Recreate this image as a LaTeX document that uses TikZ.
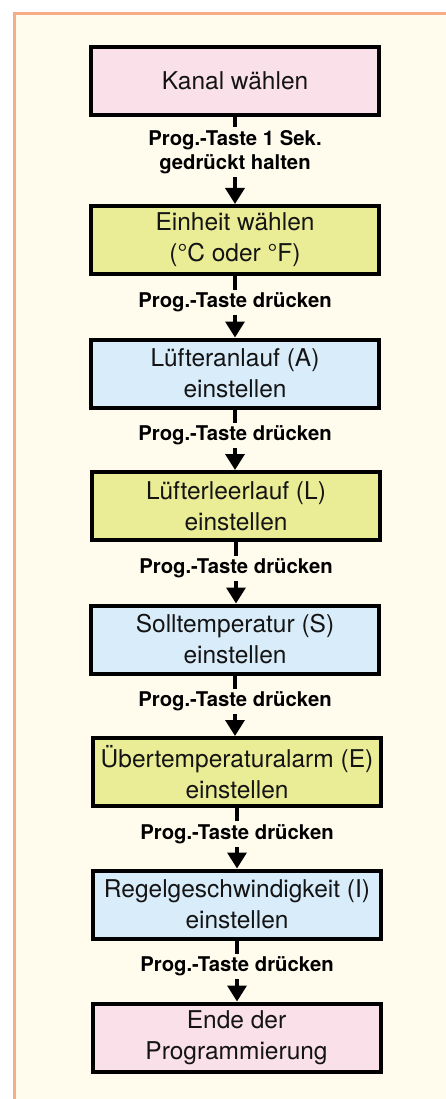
\documentclass[tikz,border=0pt]{standalone}
\usepackage{fontspec}
\setmainfont{TeX Gyre Heros}
\usetikzlibrary{arrows.meta}
\definecolor{cream}{RGB}{255,252,238}
\definecolor{framec}{RGB}{245,172,135}
\definecolor{pinkf}{RGB}{250,224,232}
\definecolor{yellowf}{RGB}{234,237,150}
\definecolor{bluef}{RGB}{217,236,250}
\tikzset{
  box/.style={draw=black, line width=4pt, minimum width=288pt, minimum height=68pt,
    align=center, inner sep=0pt, text=black!92, font=\fontsize{24.5}{31}\selectfont},
  pinkbox/.style={box, fill=pinkf},
  yellowbox/.style={box, fill=yellowf},
  bluebox/.style={box, fill=bluef},
  lbl/.style={fill=cream, inner sep=3pt, align=center, text=black,
    font=\bfseries\fontsize{20.3}{24}\selectfont},
  conn/.style={line width=3.5pt, -{Triangle[width=19pt,length=16pt]}},
  framebox/.style={draw=framec, line width=3pt, fill=cream}
}
\begin{document}
\begin{tikzpicture}[x=1pt,y=1pt]
\useasboundingbox (0,0) rectangle (446,-1099);
\clip (0,0) rectangle (446,-1099);
\fill[white] (0,0) rectangle (446,-1099);
\draw[framebox] (14.5,-13.5) rectangle (470,-1120);

\node[pinkbox]   (b1) at (235,-81)    {Kanal wählen};
\node[yellowbox] (b2) at (235,-240)   {Einheit wählen\\(°C oder °F)};
\node[bluebox]   (b3) at (235,-373.5) {Lüfteranlauf (A)\\einstellen};
\node[yellowbox] (b4) at (236,-506)   {Lüfterleerlauf (L)\\einstellen};
\node[bluebox]   (b5) at (235,-639.5) {Solltemperatur (S)\\einstellen};
\node[yellowbox] (b6) at (237,-772)   {Übertemperaturalarm (E)\\einstellen};
\node[bluebox]   (b7) at (237,-904.5) {Regelgeschwindigkeit (I)\\einstellen};
\node[pinkbox]   (b8) at (236.5,-1037.5) {Ende der\\Programmierung};

\draw[conn] (b1.south) -- node[lbl, pos=0.40] (l1) {Prog.-Taste 1 Sek.\\gedrückt halten} (b1.south |- b2.north);
\draw[conn] (b2.south) -- node[lbl, pos=0.43] (l2) {Prog.-Taste drücken} (b2.south |- b3.north);
\draw[conn] (b3.south) -- node[lbl, pos=0.43] (l3) {Prog.-Taste drücken} (b3.south |- b4.north);
\draw[conn] (b4.south) -- node[lbl, pos=0.43] (l4) {Prog.-Taste drücken} (b4.south |- b5.north);
\draw[conn] (b5.south) -- node[lbl, pos=0.43] (l5) {Prog.-Taste drücken} (b5.south |- b6.north);
\draw[conn] (b6.south) -- node[lbl, pos=0.43] (l6) {Prog.-Taste drücken} (b6.south |- b7.north);
\draw[conn] (b7.south) -- node[lbl, pos=0.43] (l7) {Prog.-Taste drücken} (b7.south |- b8.north);
\end{tikzpicture}
\end{document}
